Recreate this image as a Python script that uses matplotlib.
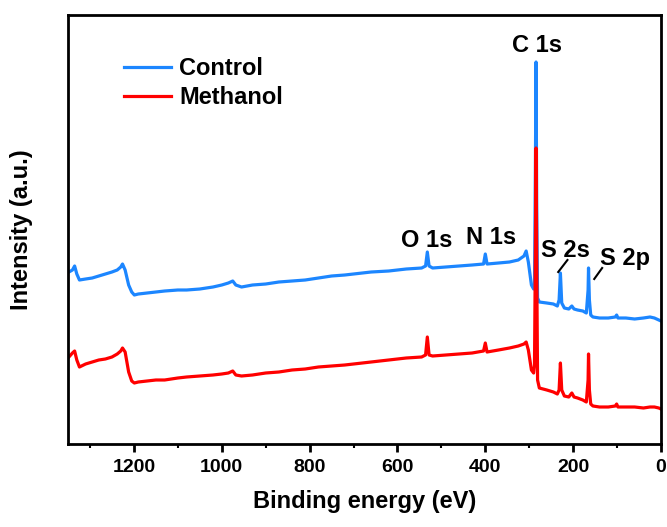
import matplotlib.pyplot as plt
from matplotlib.ticker import MultipleLocator

plt.rcParams['font.family'] = ['Liberation Sans', 'DejaVu Sans']
plt.rcParams['font.weight'] = 'bold'

# binding energy grid (eV), shared by both spectra
energy = [1348, 1340, 1335, 1330, 1324, 1310, 1295, 1280, 1265, 1250, 1238, 1230,
          1226, 1220, 1212, 1205, 1199, 1190, 1170, 1150, 1130, 1100, 1080, 1050,
          1020, 1000, 985, 975, 968, 955, 930, 900, 870, 840, 810, 780, 750, 720,
          700, 660, 620, 580, 545, 536, 532, 528, 520, 490, 460, 430, 404, 400,
          396, 370, 345, 325, 312, 307, 302, 295, 290, 288, 286, 284.5, 283, 281,
          277, 260, 245, 236, 232, 229, 226, 220, 210, 203, 198, 190, 178, 170,
          166, 165, 163, 160, 155, 140, 120, 104, 101, 98, 80, 60, 40, 25, 15, 5, 0]

# intensities (a.u.)
control = [172, 174, 178, 170, 164, 165, 166, 168, 170, 172, 174, 177,
           180, 174, 159, 152, 149, 150, 151, 152, 153, 154, 154, 155,
           157, 159, 161, 163, 159, 157, 159, 160, 162, 163, 164, 166, 168, 169,
           170, 172, 173, 175, 176, 178, 192, 178, 176, 177, 178, 179, 180, 190,
           180, 181, 182, 184, 188, 193, 182, 159, 155, 159, 274, 382, 244, 146,
           142, 141, 140, 138, 144, 171, 141, 136, 135, 138, 135, 134, 133, 131,
           154, 176, 144, 129, 127, 126, 126, 127, 129, 126, 126, 125, 126, 127, 126, 124, 123]

methanol = [87, 91, 93, 84, 77, 80, 82, 84, 85, 87, 90, 93,
            96, 92, 72, 63, 61, 62, 63, 64, 64, 66, 67, 68,
            69, 70, 71, 73, 69, 68, 69, 71, 72, 74, 75, 77, 78, 79,
            80, 82, 84, 86, 87, 89, 107, 89, 88, 89, 90, 91, 93, 101,
            92, 94, 96, 98, 100, 102, 94, 74, 71, 79, 194, 296, 184, 64,
            56, 54, 52, 50, 54, 81, 54, 48, 47, 51, 47, 46, 44, 42,
            64, 90, 54, 40, 38, 37, 37, 38, 40, 37, 37, 37, 36, 37, 37, 36, 35]

fig = plt.figure(figsize=(6.67, 5.27), dpi=100)
ax = fig.add_axes([0.102, 0.1575, 0.889, 0.814])

ax.plot(energy, control, color='#1C86FF', lw=2.3, label='Control')
ax.plot(energy, methanol, color='#FF0000', lw=2.3, label='Methanol')

ax.set_xlim(1350, 0)
ax.set_ylim(0, 429)
ax.xaxis.set_major_locator(MultipleLocator(200))
ax.xaxis.set_minor_locator(MultipleLocator(100))
ax.tick_params(axis='x', which='major', direction='out', length=6, width=2, labelsize=14, pad=5)
ax.tick_params(axis='x', which='minor', direction='out', length=3, width=1.5)
ax.set_yticks([])
for s in ax.spines.values():
    s.set_linewidth(2)

ax.set_xlabel('Binding energy (eV)', fontsize=17, fontweight='bold', labelpad=10)
ax.set_ylabel('Intensity (a.u.)', fontsize=17, fontweight='bold', labelpad=25)

# peak labels
ax.text(282, 399, 'C 1s', fontsize=17, ha='center', va='center')
ax.text(534, 204, 'O 1s', fontsize=17, ha='center', va='center')
ax.text(386, 207, 'N 1s', fontsize=17, ha='center', va='center')
ax.text(218, 194, 'S 2s', fontsize=17, ha='center', va='center')
ax.text(81, 186, 'S 2p', fontsize=17, ha='center', va='center')
ax.plot([213, 234], [184, 172], color='black', lw=1.5)
ax.plot([134, 152], [176, 165], color='black', lw=1.5)

ax.legend(loc='upper left', bbox_to_anchor=(0.058, 0.951), frameon=False, fontsize=17,
          handlelength=2.0, handletextpad=0.35, labelspacing=0.25)

fig.savefig('out.png', dpi=100)
